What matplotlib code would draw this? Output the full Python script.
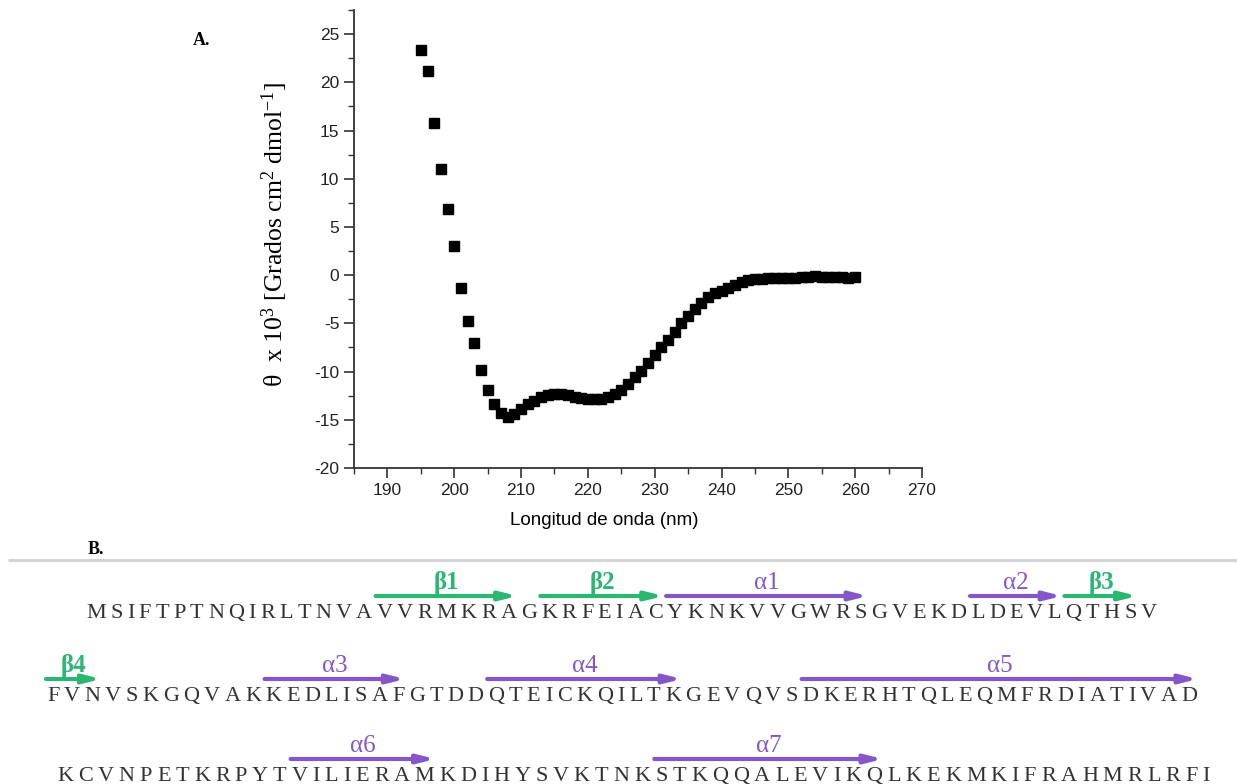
import numpy as np
import matplotlib.pyplot as plt
from matplotlib.ticker import MultipleLocator
from matplotlib.font_manager import FontProperties

# CD spectrum (ellipticity x 10^3) read every 1 nm
wavelength = np.arange(195, 261)
theta = [23.3, 21.2, 15.8, 11.0, 6.9, 3.0, -1.3, -4.8, -7.0, -9.8,
         -11.9, -13.4, -14.3, -14.7, -14.4, -13.9, -13.4, -13.0, -12.6, -12.4,
         -12.3, -12.3, -12.4, -12.6, -12.7, -12.8, -12.8, -12.8, -12.6, -12.3,
         -11.9, -11.3, -10.6, -9.9, -9.1, -8.3, -7.4, -6.7, -5.9, -5.0,
         -4.2, -3.5, -2.9, -2.3, -1.9, -1.6, -1.3, -1.0, -0.7, -0.55,
         -0.45, -0.38, -0.33, -0.30, -0.28, -0.26, -0.25, -0.22, -0.18, -0.12,
         -0.15, -0.22, -0.17, -0.20, -0.27, -0.17]

seq_lines = ["MSIFTPTNQIRLTNVAVVRMKRAGKRFEIACYKNKVVGWRSGVEKDLDEVLQTHSV",
             "FVNVSKGQVAKKEDLISAFGTDDQTEICKQILTKGEVQVSDKERHTQLEQMFRDIATIVAD",
             "KCVNPETKRPYTVILIERAMKDIHYSVKTNKSTKQQALEVIKQLKEKMKIFRAHMRLRFI"]

# secondary structure: (label, line, first residue, last residue)
elements = [("β1", 0, 16, 22), ("β2", 0, 24, 30), ("α1", 0, 31, 40),
            ("α2", 0, 46, 50), ("β3", 0, 51, 54),
            ("β4", 1, 0, 2), ("α3", 1, 11, 18), ("α4", 1, 23, 33),
            ("α5", 1, 40, 60),
            ("α6", 2, 12, 19), ("α7", 2, 31, 42)]

plt.rcParams['axes.unicode_minus'] = False
plt.rcParams['mathtext.fontset'] = 'custom'
plt.rcParams['mathtext.rm'] = 'Liberation Serif'
plt.rcParams['mathtext.it'] = 'Liberation Serif'

W, H = 1237, 784
fig = plt.figure(figsize=(W / 100, H / 100), dpi=100)

# ---- panel A: spectrum ----
ax = fig.add_axes([354 / W, 1 - 468 / H, 568 / W, 458 / H])
ax.plot(wavelength, theta, 's', color='black', markersize=7.5)
ax.set_xlim(185, 270)
ax.set_ylim(-20, 27.5)
ax.xaxis.set_major_locator(MultipleLocator(10))
ax.xaxis.set_minor_locator(MultipleLocator(5))
ax.yaxis.set_major_locator(MultipleLocator(5))
ax.yaxis.set_minor_locator(MultipleLocator(2.5))
for s in ['top', 'right']:
    ax.spines[s].set_visible(False)
for s in ['left', 'bottom']:
    ax.spines[s].set_color('#333333')
    ax.spines[s].set_linewidth(1.3)
ax.tick_params(which='major', length=7, width=1.2, color='#333333',
               labelsize=12.5, labelcolor='#222222', direction='out')
ax.tick_params(which='minor', length=4, width=1.0, color='#333333', direction='out')
ax.set_xlabel('Longitud de onda (nm)', fontsize=13.5, family='Liberation Sans')
ax.xaxis.set_label_coords((604 - 354) / 568, -0.095)
for lab in ax.get_xticklabels() + ax.get_yticklabels():
    lab.set_family('Liberation Sans')
ax.set_ylabel(r'θ  x 10$^3$ [Grados cm$^2$ dmol$^{-1}$]', fontsize=18.5,
              family='Liberation Serif')
ax.yaxis.set_label_coords((290 - 354) / 568, 0.51)

# ---- overlay in pixel units for panel labels and the sequence ----
lay = fig.add_axes([0, 0, 1, 1])
lay.set_xlim(0, W)
lay.set_ylim(H, 0)
lay.axis('off')

lay.text(193, 40, 'A.', fontsize=13, fontweight='bold', family='Liberation Serif',
         va='center', ha='left')
lay.text(88, 549, 'B.', fontsize=13, fontweight='bold', family='Liberation Serif',
         va='center', ha='left')
lay.plot([8, W], [560, 560], color='#d4d4d4', lw=2.2, solid_capstyle='butt')

green = '#2bb673'
purple = '#8457c9'
prop = FontProperties(family='Liberation Serif', size=16)
spans = [(86, 1157), (47, 1197), (57, 1210)]
baselines = [618, 701, 781]

renderer = fig.canvas.get_renderer()

edges = []
for line, (x0, x1), yb in zip(seq_lines, spans, baselines):
    widths = [renderer.get_text_width_height_descent(c, prop, ismath=False)[0]
              for c in line]
    track = ((x1 - x0) - sum(widths)) / (len(line) - 1)
    x = x0
    left = []
    for c, w in zip(line, widths):
        lay.text(x, yb, c, fontproperties=prop, color='#333333',
                 ha='left', va='baseline')
        left.append((x, x + w))
        x += w + track
    edges.append(left)

for label, li, a, b in elements:
    col = green if label.startswith('β') else purple
    xs = edges[li][a][0] - 1
    xe = edges[li][b][1] + 1
    ya = baselines[li] - 22
    lay.annotate('', xy=(xe, ya), xytext=(xs, ya),
                 arrowprops=dict(arrowstyle='-|>,head_length=1.0,head_width=0.25',
                                 color=col, lw=3, shrinkA=0, shrinkB=0))
    lay.text((xs + xe) / 2, ya - 7, label, fontsize=18, color=col,
             family='Liberation Serif',
             fontweight='bold' if label.startswith('β') else 'normal',
             ha='center', va='baseline')

fig.savefig('out.png', dpi=100)
